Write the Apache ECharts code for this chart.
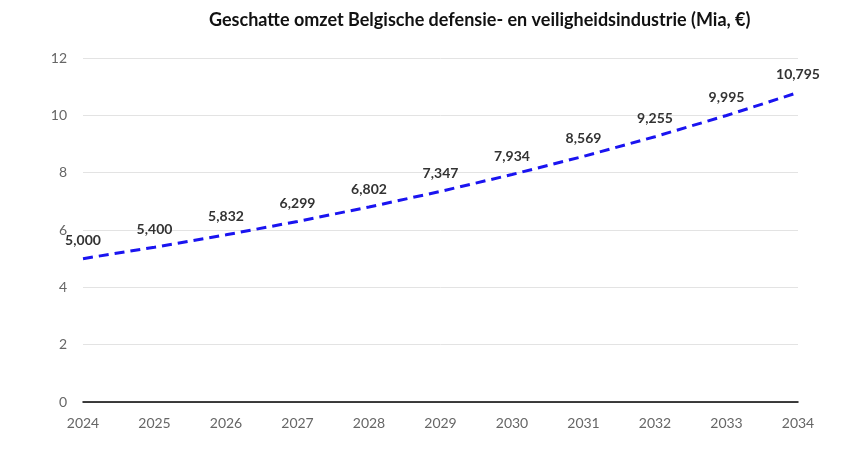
<!DOCTYPE html>
<html><head><meta charset="utf-8">
<script src="https://cdn.jsdelivr.net/npm/echarts@6/dist/echarts.min.js"></script>
<style>html,body{margin:0;padding:0;background:#fff}#c{width:842px;height:466px}</style>
</head><body><div id="c"></div>
<script>
const title = 'Geschatte omzet Belgische defensie- en veiligheidsindustrie (Mia, €)';
const categories = ['2024','2025','2026','2027','2028','2029','2030','2031','2032','2033','2034'];
const values = [5.000, 5.400, 5.832, 6.299, 6.802, 7.347, 7.934, 8.569, 9.255, 9.995, 10.795];
const yTicks = {min: 0, max: 12, interval: 2};

const chart = echarts.init(document.getElementById('c'), null, {renderer: 'canvas'});
chart.setOption({
  animation: false,
  backgroundColor: '#fff',
  title: {
    text: title, left: 204, top: 6,
    textStyle: {fontFamily: 'Lato', fontWeight: 'bold', fontSize: 18, color: '#111'}
  },
  grid: {left: 83, right: 44, top: 58, bottom: 64, containLabel: false},
  xAxis: {
    type: 'category', data: categories, boundaryGap: false,
    axisLine: {show: true, lineStyle: {color: '#000', width: 1.5}},
    axisTick: {show: false},
    axisLabel: {color: '#666', fontFamily: 'Lato', fontSize: 14, margin: 14}
  },
  yAxis: {
    type: 'value', min: yTicks.min, max: yTicks.max, interval: yTicks.interval,
    axisLine: {show: false}, axisTick: {show: false},
    axisLabel: {color: '#666', fontFamily: 'Lato', fontSize: 14, margin: 16},
    splitLine: {lineStyle: {color: '#e3e3e3', width: 1}}
  },
  series: [{
    type: 'line', data: values, showSymbol: true, showAllSymbol: true, symbol: 'circle', symbolSize: 2,
    itemStyle: {color: 'rgba(0,0,0,0)', borderWidth: 0},
    lineStyle: {color: '#1a14f0', width: 3, type: [10, 6]},
    label: {
      show: true, position: 'top', distance: 10,
      color: '#333', fontFamily: 'Lato', fontWeight: 'bold', fontSize: 14,
      formatter: p => p.value.toFixed(3).replace('.', ',')
    },
    labelLayout: {hideOverlap: false}
  }]
});
</script></body></html>
